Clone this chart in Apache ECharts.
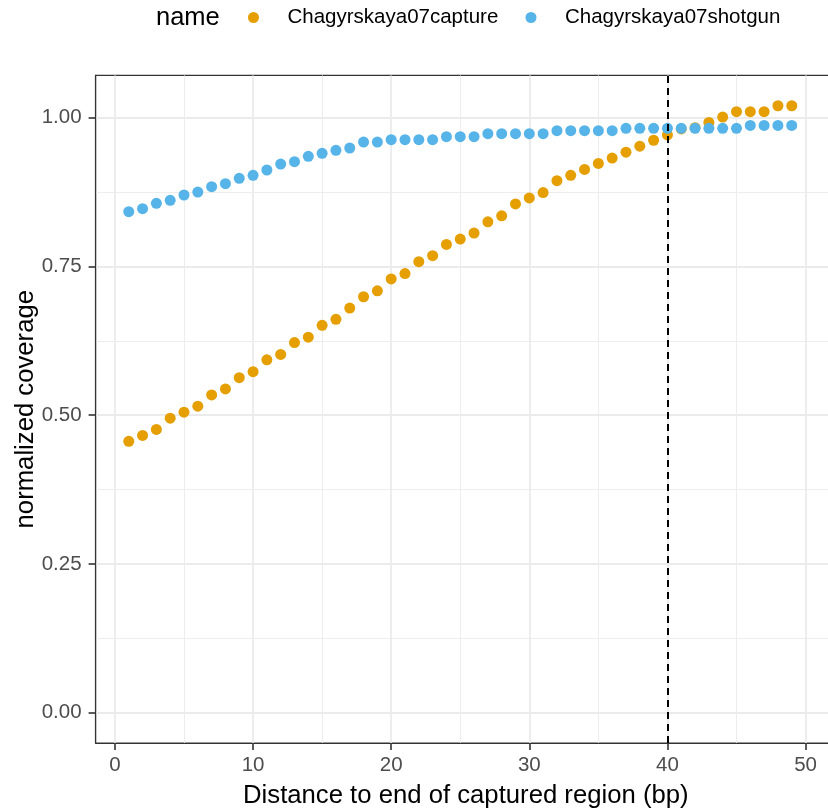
<!DOCTYPE html>
<html>
<head>
<meta charset="utf-8">
<script src="https://cdn.jsdelivr.net/npm/echarts@6/dist/echarts.min.js"></script>
<style>
html, body { margin: 0; padding: 0; background: #fff; }
#chart { width: 828px; height: 809px; }
</style>
</head>
<body>
<div id="chart"></div>
<script>
// distance to end of captured region (bp)
var distance = [1, 2, 3, 4, 5, 6, 7, 8, 9, 10, 11, 12, 13, 14, 15, 16, 17, 18, 19, 20,
    21, 22, 23, 24, 25, 26, 27, 28, 29, 30, 31, 32, 33, 34, 35, 36, 37, 38, 39, 40,
    41, 42, 43, 44, 45, 46, 47, 48, 49];
var capture = [0.456, 0.466, 0.476, 0.495, 0.505, 0.515, 0.534, 0.544, 0.563, 0.573,
    0.593, 0.602, 0.622, 0.631, 0.651, 0.661, 0.680, 0.699, 0.709, 0.729,
    0.738, 0.758, 0.768, 0.787, 0.796, 0.806, 0.825, 0.835, 0.855, 0.865,
    0.874, 0.894, 0.903, 0.913, 0.923, 0.932, 0.942, 0.952, 0.962, 0.971,
    0.981, 0.983, 0.992, 1.001, 1.010, 1.010, 1.010, 1.020, 1.020];
var shotgun = [0.842, 0.847, 0.856, 0.861, 0.870, 0.875, 0.884, 0.889, 0.898, 0.903,
    0.912, 0.922, 0.926, 0.935, 0.940, 0.945, 0.949, 0.959, 0.959, 0.963,
    0.963, 0.963, 0.963, 0.968, 0.968, 0.968, 0.973, 0.973, 0.973, 0.973,
    0.973, 0.978, 0.978, 0.978, 0.978, 0.978, 0.982, 0.982, 0.982, 0.982,
    0.982, 0.982, 0.982, 0.982, 0.982, 0.987, 0.987, 0.987, 0.987];
var seriesNames = ['Chagyrskaya07capture', 'Chagyrskaya07shotgun'];
var xTicks = [0, 10, 20, 30, 40, 50];
var xMinor = [5, 15, 25, 35, 45];
var yTicks = [0, 0.25, 0.5, 0.75, 1.0];
var yMinor = [0.125, 0.375, 0.625, 0.875];
var cutoff = 40;

var FONT = 'Liberation Sans';
var chart = echarts.init(document.getElementById('chart'));

function pairs(xs, ys) {
    var out = [];
    for (var i = 0; i < xs.length; i++) {
        out.push([xs[i], ys[i]]);
    }
    return out;
}

function legendFor(name, left) {
    return {
        data: [name],
        left: left,
        top: 2,
        icon: 'circle',
        itemWidth: 58,
        itemHeight: 11,
        textStyle: { fontFamily: FONT, fontSize: 20.5, color: '#000' },
        selectedMode: false
    };
}

var xMin = -1.4, xMax = 51.77, yMin = -0.051, yMax = 1.071;

var option = {
    backgroundColor: '#fff',
    animation: false,
    graphic: [{
        type: 'text',
        left: 156,
        top: 5,
        style: { text: 'name', font: '25.5px "Liberation Sans"', fill: '#000' }
    }],
    legend: [legendFor(seriesNames[0], 243), legendFor(seriesNames[1], 520.5)],
    grid: {
        left: 95.6,
        right: -2,
        top: 75.4,
        bottom: 66,
        outerBoundsMode: 'none',
        containLabel: false,
        show: true,
        borderColor: '#333',
        borderWidth: 1.2
    },
    xAxis: [{
        type: 'value',
        min: xMin,
        max: xMax,
        name: 'Distance to end of captured region (bp)',
        nameLocation: 'middle',
        nameGap: 40,
        nameMoveOverlap: false,
        nameTextStyle: { fontFamily: FONT, fontSize: 25.7, color: '#000', padding: [0, 0, 0, 6] },
        axisLine: { show: true, onZero: false, lineStyle: { color: '#333', width: 1.2 } },
        axisTick: { show: true, customValues: xTicks, length: 7, lineStyle: { color: '#333', width: 1.6 } },
        axisLabel: { customValues: xTicks, margin: 12, fontFamily: FONT, fontSize: 20.5, color: '#4d4d4d' },
        splitLine: { show: true, lineStyle: { color: '#ebebeb', width: 1.8 } }
    }, {
        type: 'value',
        min: xMin,
        max: xMax,
        position: 'bottom',
        axisLine: { show: false, onZero: false },
        axisTick: { show: false, customValues: xMinor },
        axisLabel: { show: false, customValues: xMinor },
        splitLine: { show: true, lineStyle: { color: '#ebebeb', width: 0.9 } }
    }],
    yAxis: [{
        type: 'value',
        min: yMin,
        max: yMax,
        name: 'normalized coverage',
        nameLocation: 'middle',
        nameGap: 57,
        nameMoveOverlap: false,
        nameTextStyle: { fontFamily: FONT, fontSize: 25.7, color: '#000' },
        axisLine: { show: true, onZero: false, lineStyle: { color: '#333', width: 1.2 } },
        axisTick: { show: true, customValues: yTicks, length: 7, lineStyle: { color: '#333', width: 1.6 } },
        axisLabel: {
            customValues: yTicks, margin: 14, fontFamily: FONT, fontSize: 20.5, color: '#4d4d4d',
            formatter: function (v) { return v.toFixed(2); }
        },
        splitLine: { show: true, lineStyle: { color: '#ebebeb', width: 1.8 } }
    }, {
        type: 'value',
        min: yMin,
        max: yMax,
        position: 'left',
        axisLine: { show: false, onZero: false },
        axisTick: { show: false, customValues: yMinor },
        axisLabel: { show: false, customValues: yMinor },
        splitLine: { show: true, lineStyle: { color: '#ebebeb', width: 0.9 } }
    }],
    series: [{
        name: seriesNames[0],
        type: 'scatter',
        symbolSize: 11,
        itemStyle: { color: '#E69F00', opacity: 1 },
        data: pairs(distance, capture),
        z: 3
    }, {
        name: seriesNames[1],
        type: 'scatter',
        symbolSize: 11,
        itemStyle: { color: '#56B4E9', opacity: 1 },
        data: pairs(distance, shotgun),
        z: 4
    }, {
        type: 'scatter',
        data: [],
        z: 6,
        markLine: {
            silent: true,
            symbol: 'none',
            label: { show: false },
            lineStyle: { color: '#000', width: 2, type: [7, 5] },
            data: [{ xAxis: cutoff }]
        }
    }]
};

chart.setOption(option);
</script>
</body>
</html>
